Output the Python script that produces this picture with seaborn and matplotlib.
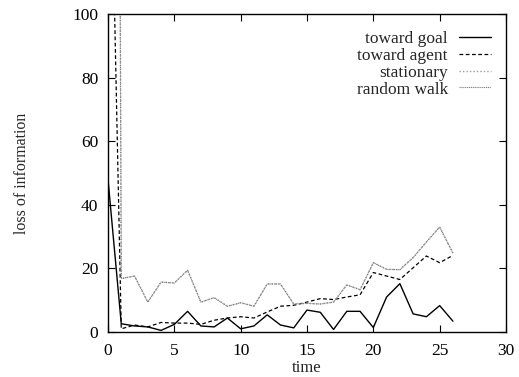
import seaborn as sns
import matplotlib.pyplot as plt
import pandas as pd

# values
time = list(range(27))
toward_goal = [48, 2.6, 1.9, 1.6, 0.5, 2.4, 6.5, 1.9, 1.6, 4.4, 1.0, 1.9, 5.4, 2.2,
               1.3, 6.9, 6.2, 0.8, 6.5, 6.5, 1.4, 11.0, 15.2, 5.7, 4.8, 8.3, 3.4]
toward_agent = [199, 1.0, 2.2, 1.6, 3.0, 2.8, 2.8, 2.4, 3.7, 4.4, 4.8, 4.4, 6.3, 8.1,
                8.4, 9.4, 10.5, 10.2, 11.0, 11.7, 18.7, 17.6, 16.5, 20.2, 23.9, 21.8, 24.1]
stationary = [1200, 16.8, 17.6, 9.4, 15.7, 15.4, 19.4, 9.4, 10.8, 8.1, 9.2, 8.1, 15.1, 15.1,
              8.8, 9.0, 8.8, 9.4, 14.8, 13.3, 21.8, 19.7, 19.6, 23.4, 28.3, 33.0, 24.8]
random_walk = [1100, 16.8, 17.6, 9.4, 15.7, 15.4, 19.4, 9.4, 10.8, 8.1, 9.2, 8.1, 15.1, 15.1,
               8.8, 9.0, 8.8, 9.4, 14.8, 13.3, 21.8, 19.7, 19.6, 23.4, 28.3, 33.0, 24.8]

series = {
    "toward goal": toward_goal,
    "toward agent": toward_agent,
    "stationary": stationary,
    "random walk": random_walk,
}
styles = {
    "toward goal": dict(color="black", linestyle="-", linewidth=1.0),
    "toward agent": dict(color="black", linestyle=(0, (3, 2)), linewidth=0.9),
    "stationary": dict(color="#9a9a9a", linestyle=(0, (1, 1.5)), linewidth=1.0),
    "random walk": dict(color="#808080", linestyle=(0, (1, 0.7)), linewidth=0.8),
}

sns.set_style("ticks")
plt.rcParams["font.family"] = ["Liberation Serif", "DejaVu Serif"]
plt.rcParams["xtick.direction"] = "in"
plt.rcParams["ytick.direction"] = "in"

fig = plt.figure(figsize=(5.19, 3.77), dpi=100)
ax = fig.add_axes([108 / 519, 1 - 332 / 377, 398 / 519, 318 / 377])

for name, vals in series.items():
    df = pd.DataFrame({"time": time, "loss": vals})
    sns.lineplot(data=df, x="time", y="loss", ax=ax, label=name, **styles[name])

ax.set_xlim(0, 30)
ax.set_ylim(0, 100)
ax.set_xticks(range(0, 31, 5))
ax.set_yticks(range(0, 101, 20))
ax.tick_params(axis="both", which="both", top=True, right=True, length=5,
               width=0.8, labelsize=12.5, colors="black")
ax.tick_params(axis="x", pad=8)
ax.tick_params(axis="y", pad=7)
for sp in ax.spines.values():
    sp.set_linewidth(1.0)
    sp.set_color("black")

ax.set_xlabel("time", fontsize=12, labelpad=1)
ax.set_ylabel("loss of information", fontsize=11.4)
ax.yaxis.set_label_coords(-0.197, 0.5)

ax.legend(loc="upper right", frameon=False, markerfirst=False, fontsize=12.5,
          handlelength=1.84, handletextpad=0.63, labelspacing=0.04,
          borderpad=0, borderaxespad=0, bbox_to_anchor=(0.962, 0.947))

fig.savefig("out.png", dpi=100)
